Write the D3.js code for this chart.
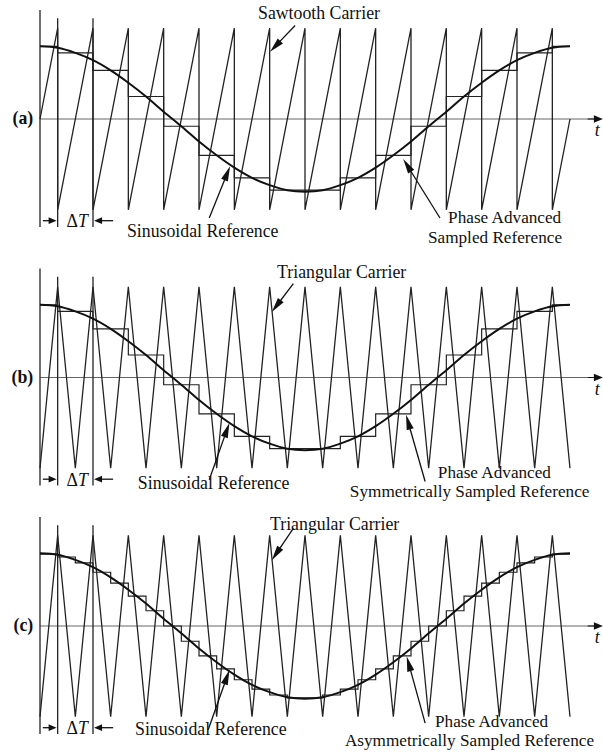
<!DOCTYPE html>
<html>
<head>
<meta charset="utf-8">
<script src="https://cdn.jsdelivr.net/npm/d3@7"></script>
<style>
  body { margin: 0; background: #fff; }
  text { font-family: "Liberation Serif", "Times New Roman", serif; fill: #111; }
</style>
</head>
<body>
<div id="chart"></div>
<script>
// time is measured in carrier periods, one reference period = 15 carrier periods
const carrierPeaks = [0.5, 1.5, 2.5, 3.5, 4.5, 5.5, 6.5, 7.5, 8.5, 9.5, 10.5, 11.5, 12.5, 13.5, 14.5];
const carrierTroughs = [0, 1, 2, 3, 4, 5, 6, 7, 8, 9, 10, 11, 12, 13, 14, 15];

// sinusoidal reference (per unit of its own amplitude)
const refTimes = [0, 0.5, 1, 1.5, 2, 2.5, 3, 3.5, 4, 4.5, 5, 5.5, 6, 6.5, 7, 7.5,
                  8, 8.5, 9, 9.5, 10, 10.5, 11, 11.5, 12, 12.5, 13, 13.5, 14, 14.5, 15];
const refValues = [1.00, 0.98, 0.91, 0.81, 0.67, 0.50, 0.31, 0.10, -0.10, -0.31, -0.50, -0.67, -0.81, -0.91, -0.98, -1.00,
                   -0.98, -0.91, -0.81, -0.67, -0.50, -0.31, -0.10, 0.10, 0.31, 0.50, 0.67, 0.81, 0.91, 0.98, 1.00];
const modIndex = 0.8;

// one sample per carrier period (panels a and b)
const symEdges = [0, 0.5, 1.5, 2.5, 3.5, 4.5, 5.5, 6.5, 7.5, 8.5, 9.5, 10.5, 11.5, 12.5, 13.5, 14.5, 15];
const symLevels = [1.00, 0.91, 0.67, 0.31, -0.10, -0.50, -0.81, -0.98, -0.98, -0.81, -0.50, -0.10, 0.31, 0.67, 0.91, 1.00];

// two samples per carrier period (panel c)
const asymEdges = [0, 0.5, 1, 1.5, 2, 2.5, 3, 3.5, 4, 4.5, 5, 5.5, 6, 6.5, 7, 7.5,
                   8, 8.5, 9, 9.5, 10, 10.5, 11, 11.5, 12, 12.5, 13, 13.5, 14, 14.5, 15];
const asymLevels = [0.99, 0.95, 0.87, 0.74, 0.59, 0.41, 0.21, 0.00, -0.21, -0.41, -0.59, -0.74, -0.87, -0.95, -0.99,
                    -0.99, -0.95, -0.87, -0.74, -0.59, -0.41, -0.21, 0.00, 0.21, 0.41, 0.59, 0.74, 0.87, 0.95, 0.99];

const panelTags = ["(a)", "(b)", "(c)"];
const carrierKinds = ["saw", "tri", "tri"];
const carrierNames = ["Sawtooth Carrier", "Triangular Carrier", "Triangular Carrier"];
const sampledNames = [
    ["Phase Advanced", "Sampled Reference"],
    ["Phase Advanced", "Symmetrically Sampled Reference"],
    ["Phase Advanced", "Asymmetrically Sampled Reference"]
];

// layout
var width = 603, height = 752;
var zeroY = [119, 377.5, 626];
var carrierAmp = 90.8;
var fontSize = 17.8;

// annotation placement in (time, carrier units)
var notes = [
    {cArrow: [[7.22, 1.03], [6.51, 0.74]], sArrow: [[4.79, -1.09], [5.38, -0.52]], pArrow: [[11.32, -1.09], [10.28, -0.44]],
     cText: [6.17, 1.10], sText: [2.46, -1.30], pText1: [11.55, -1.15], pText2: [10.98, -1.365]},
    {cArrow: [[7.17, 1.035], [6.56, 0.72]], sArrow: [[4.79, -1.126], [5.36, -0.50]], pArrow: [[10.9, -1.145], [10.36, -0.41]],
     cText: [6.71, 1.093], sText: [2.77, -1.229], pText1: [11.26, -1.105], pText2: [8.77, -1.32]},
    {cArrow: [[7.17, 1.074], [6.56, 0.725]], sArrow: [[4.76, -1.143], [5.36, -0.484]], pArrow: [[10.9, -1.069], [10.38, -0.337]],
     cText: [6.51, 1.055], sText: [2.69, -1.198], pText1: [11.18, -1.11], pText2: [8.63, -1.32]}
];

var svg = d3.select("#chart").append("svg")
    .attr("width", width)
    .attr("height", height)
    .style("background", "#fff");

var x = d3.scaleLinear().domain([0, 15]).range([40, 570]);

// straight arrow with a filled head at p1
function arrow(g, p0, p1, len, half, sw) {
    var dx = p1[0] - p0[0], dy = p1[1] - p0[1];
    var d = Math.sqrt(dx * dx + dy * dy);
    var ux = dx / d, uy = dy / d;
    var bx = p1[0] - ux * len, by = p1[1] - uy * len;
    g.append("line")
        .attr("x1", p0[0]).attr("y1", p0[1])
        .attr("x2", bx + ux * 2).attr("y2", by + uy * 2)
        .attr("stroke", "#111").attr("stroke-width", sw);
    g.append("path")
        .attr("d", "M" + p1[0] + "," + p1[1] +
            "L" + (bx - uy * half) + "," + (by + ux * half) +
            "L" + (bx + uy * half) + "," + (by - ux * half) + "Z")
        .attr("fill", "#111");
}

panelTags.forEach(function(tag, i) {
    var y0 = zeroY[i];
    var y = d3.scaleLinear().domain([-1, 1]).range([y0 + carrierAmp, y0 - carrierAmp]);
    var g = svg.append("g");
    var nt = notes[i];
    var P = function(p) { return [x(p[0]), y(p[1])]; };

    // zero axis with arrow
    g.append("line")
        .attr("x1", x(0)).attr("y1", y(0))
        .attr("x2", x(15.7)).attr("y2", y(0))
        .attr("stroke", "#666").attr("stroke-width", 1);
    arrow(g, [x(15.5), y(0)], [x(15.93), y(0)], 9, 3.8, 1);
    g.append("text")
        .attr("x", x(15.77)).attr("y", y(-0.19))
        .attr("text-anchor", "middle")
        .style("font-style", "italic")
        .style("font-size", fontSize + "px")
        .text("t");

    // vertical axis and the two delta-T extension lines
    g.append("line")
        .attr("x1", x(0)).attr("y1", y(1.2))
        .attr("x2", x(0)).attr("y2", y(-1.19))
        .attr("stroke", "#222").attr("stroke-width", 1.3);
    [carrierPeaks[0], carrierPeaks[1]].forEach(function(t) {
        g.append("line")
            .attr("x1", x(t)).attr("y1", y(1.11))
            .attr("x2", x(t)).attr("y2", y(-1.19))
            .attr("stroke", "#222").attr("stroke-width", 1.3);
    });

    // carrier
    var cPts;
    if (carrierKinds[i] === "saw") {
        cPts = [[0, 0]];
        carrierPeaks.forEach(function(p) { cPts.push([p, 1], [p, -1]); });
        cPts.push([15, 0]);
    } else {
        cPts = carrierTroughs.map(function(t) { return [t, -1]; })
            .concat(carrierPeaks.map(function(t) { return [t, 1]; }))
            .sort(function(a, b) { return a[0] - b[0]; });
    }
    g.append("path")
        .attr("d", d3.line().x(d => x(d[0])).y(d => y(d[1]))(cPts))
        .attr("fill", "none")
        .attr("stroke", "#222").attr("stroke-width", 1.3)
        .attr("stroke-linejoin", "miter");

    // sampled reference
    var edges = i === 2 ? asymEdges : symEdges;
    var levels = i === 2 ? asymLevels : symLevels;
    var sPts = levels.map(function(v, k) { return [edges[k], v * modIndex]; });
    sPts.push([edges[edges.length - 1], levels[levels.length - 1] * modIndex]);
    g.append("path")
        .attr("d", d3.line().curve(d3.curveStepAfter).x(d => x(d[0])).y(d => y(d[1]))(sPts))
        .attr("fill", "none")
        .attr("stroke", "#222").attr("stroke-width", 1.2);

    // sinusoidal reference
    g.append("path")
        .attr("d", d3.line().curve(d3.curveCatmullRom)
            .x((d, k) => x(refTimes[k])).y(d => y(d * modIndex))(refValues))
        .attr("fill", "none")
        .attr("stroke", "#111").attr("stroke-width", 2);

    // delta T dimension
    arrow(g, [x(0.08), y(-1.12)], [x(0.47), y(-1.12)], 8, 3.4, 1.3);
    arrow(g, [x(2.07), y(-1.12)], [x(1.53), y(-1.12)], 8, 3.4, 1.3);
    var dt = g.append("text")
        .attr("x", x(0.75)).attr("y", y(-1.19))
        .style("font-size", fontSize + "px");
    dt.append("tspan").text("\u0394");
    dt.append("tspan").style("font-style", "italic").text("T");

    // panel tag
    g.append("text")
        .attr("x", x(-0.19)).attr("y", y(-0.06))
        .attr("text-anchor", "end")
        .style("font-weight", "bold")
        .style("font-size", fontSize + "px")
        .text(tag);

    // annotations
    arrow(g, P(nt.cArrow[0]), P(nt.cArrow[1]), 15, 3.6, 1.3);
    arrow(g, P(nt.sArrow[0]), P(nt.sArrow[1]), 15, 3.6, 1.3);
    arrow(g, P(nt.pArrow[0]), P(nt.pArrow[1]), 15, 3.6, 1.3);

    var labels = [
        [nt.cText, carrierNames[i], fontSize],
        [nt.sText, "Sinusoidal Reference", fontSize],
        [nt.pText1, sampledNames[i][0], fontSize - 0.6],
        [nt.pText2, sampledNames[i][1], fontSize - 0.6]
    ];
    labels.forEach(function(l) {
        g.append("text")
            .attr("x", x(l[0][0])).attr("y", y(l[0][1]))
            .style("font-size", l[2] + "px")
            .text(l[1]);
    });
});
</script>
</body>
</html>
